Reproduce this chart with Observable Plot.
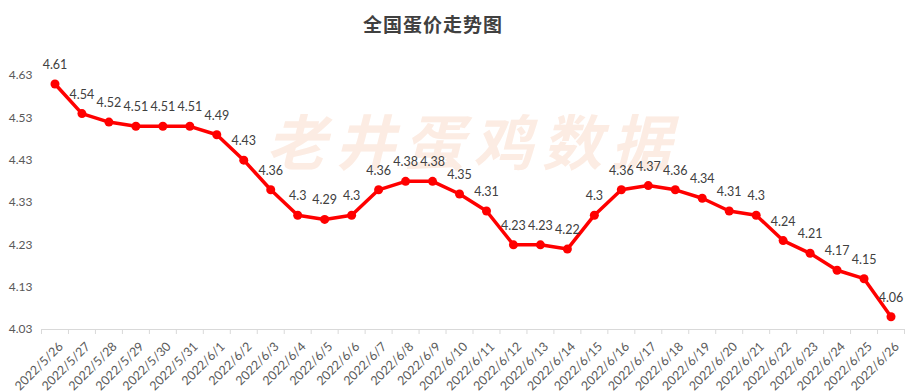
<!DOCTYPE html>
<html>
<head>
<meta charset="utf-8">
<script src="https://cdn.jsdelivr.net/npm/d3@7"></script>
<script src="https://cdn.jsdelivr.net/npm/@observablehq/plot@0.6"></script>
<style>
  body { margin: 0; background: #fff; }
  #wrap { position: relative; width: 908px; height: 392px; }
  #title { position: absolute; left: 0; top: 10px; width: 866px; text-align: center;
           font-family: "Noto Sans CJK SC", sans-serif; font-weight: 700; font-size: 19px;
           color: #404040; z-index: 2; letter-spacing: 1px; }
  .wm text { letter-spacing: 9px; }
</style>
</head>
<body>
<div id="wrap">
  <div id="title">全国蛋价走势图</div>
  <div id="chart"></div>
</div>
<script>
const titleText = "全国蛋价走势图";
const watermark = "老井蛋鸡数据";
const dates = [
  "2022/5/26","2022/5/27","2022/5/28","2022/5/29","2022/5/30","2022/5/31",
  "2022/6/1","2022/6/2","2022/6/3","2022/6/4","2022/6/5","2022/6/6","2022/6/7",
  "2022/6/8","2022/6/9","2022/6/10","2022/6/11","2022/6/12","2022/6/13","2022/6/14",
  "2022/6/15","2022/6/16","2022/6/17","2022/6/18","2022/6/19","2022/6/20","2022/6/21",
  "2022/6/22","2022/6/23","2022/6/24","2022/6/25","2022/6/26"
];
const prices = [
  4.61, 4.54, 4.52, 4.51, 4.51, 4.51,
  4.49, 4.43, 4.36, 4.3, 4.29, 4.3, 4.36,
  4.38, 4.38, 4.35, 4.31, 4.23, 4.23, 4.22,
  4.3, 4.36, 4.37, 4.36, 4.34, 4.31, 4.3,
  4.24, 4.21, 4.17, 4.15, 4.06
];
const yTicks = [4.03, 4.13, 4.23, 4.33, 4.43, 4.53, 4.63];

const data = dates.map((d, i) => ({date: d, price: prices[i]}));

const W = 908, H = 392, ML = 41, MR = 4, MT = 75, MB = 63;
const bw = (W - ML - MR) / dates.length;

const chart = Plot.plot({
  width: W,
  height: H,
  marginLeft: ML,
  marginRight: MR,
  marginTop: MT,
  marginBottom: MB,
  style: {fontFamily: "Lato, sans-serif", fontSize: "12px", color: "#595959", background: "transparent"},
  x: {type: "band", domain: dates, padding: 0},
  y: {domain: [yTicks[0], yTicks[yTicks.length - 1]]},
  marks: [
    Plot.text([watermark], {frameAnchor: "middle", text: d => d, dx: 0, dy: -57,
      fontSize: 60, fontWeight: 700, fontStyle: "italic", fill: "#fcece3",
      fontFamily: "Noto Sans CJK SC", className: "wm"}),
    Plot.axisY({ticks: yTicks, tickSize: 0, tickPadding: 9, tickFormat: d3.format(".2f"),
      label: null, fill: "#595959", fontSize: 12}),
    Plot.axisX({tickSize: 0, tickPadding: 15, tickRotate: -45, label: null, fill: "#595959", fontSize: 12.5, dx: 6}),
    Plot.ruleY([yTicks[0]], {stroke: "#d9d9d9", strokeWidth: 1}),
    Plot.ruleX(dates, {x: d => d, dx: -bw / 2, stroke: "#d9d9d9", insetTop: H - MT - MB, insetBottom: -5}),
    Plot.ruleX([dates[dates.length - 1]], {x: d => d, dx: bw / 2, stroke: "#d9d9d9", insetTop: H - MT - MB, insetBottom: -5}),
    Plot.line(data, {x: "date", y: "price", stroke: "#ff0000", strokeWidth: 3.5}),
    Plot.dot(data, {x: "date", y: "price", r: 4.5, fill: "#ff0000", stroke: "none"}),
    Plot.text(data, {x: "date", y: "price", text: d => String(d.price), dy: -19,
      fill: "#404040", fontSize: 12.5})
  ]
});
document.getElementById("chart").appendChild(chart);
</script>
</body>
</html>
